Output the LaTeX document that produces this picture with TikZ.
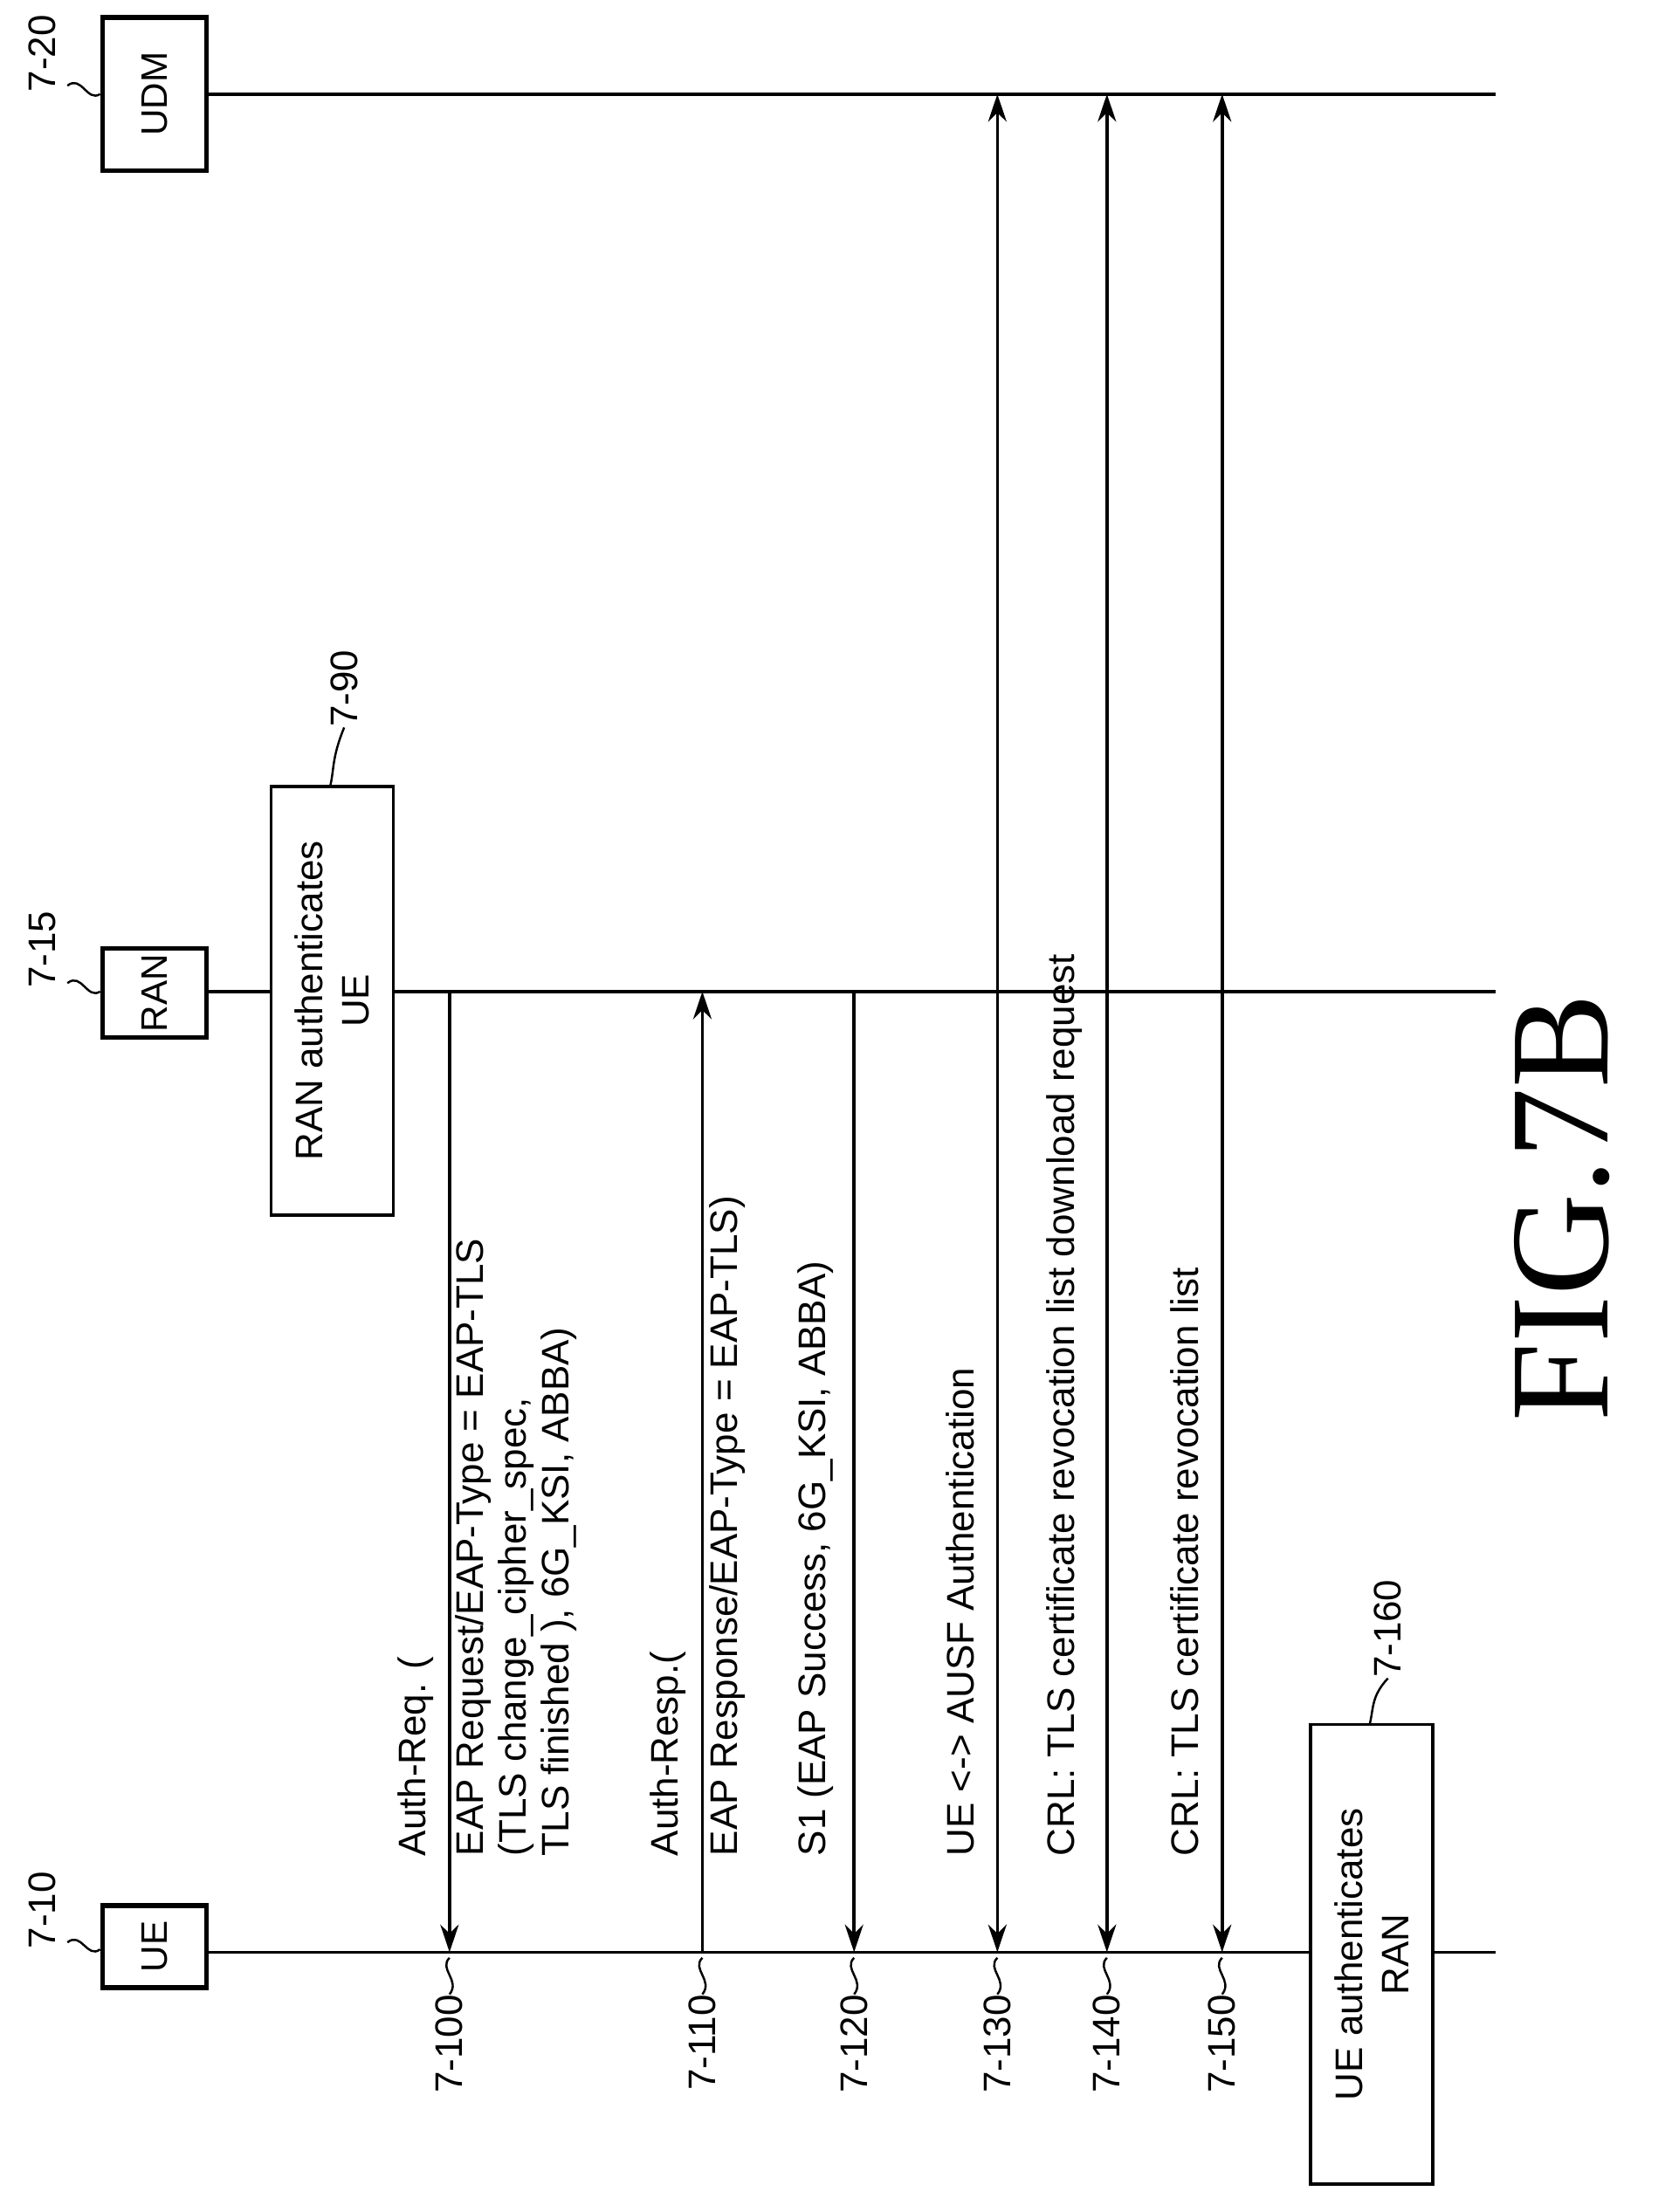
\documentclass[tikz,border=0pt]{standalone}
\usepackage{fontspec}
\setmainfont{Liberation Sans}
\newfontfamily\figfont{Liberation Serif}
\usetikzlibrary{arrows.meta}

\tikzset{
  entity/.style={draw,line width=1.6pt,minimum height=33.9pt,rotate=90,inner sep=0pt,font=\fontsize{12}{15}\selectfont},
  actbox/.style={draw,fill=white,line width=1pt,minimum height=39.8pt,rotate=90,align=center,inner sep=0pt,font=\fontsize{12.5}{15}\selectfont},
  lifeline/.style={line width=1pt},
  msg/.style={line width=1pt,-{Stealth[length=9pt,width=6pt]}},
  dmsg/.style={line width=1pt,{Stealth[length=9pt,width=6pt]}-{Stealth[length=9pt,width=6pt]}},
  msgtext/.style={rotate=90,anchor=south west,align=left,inner sep=0pt,font=\fontsize{12.5}{14}\selectfont},
  reftext/.style={rotate=90,inner sep=0pt,font=\fontsize{12.5}{15}\selectfont},
  squig/.style={line width=0.7pt}
}

\begin{document}
\begin{tikzpicture}[x=0.01609cm,y=-0.01609cm]
            \useasboundingbox (0,0) rectangle (1190,1575);

            % entities
            \node[entity,minimum width=26.6pt] (ue) at (110,1386) {UE};
            \node[entity,minimum width=29pt] (ran) at (110,707) {RAN};
            \node[entity,minimum width=49.9pt] (udm) at (110,67) {UDM};
            \coordinate (ueend) at (1065,1390);
            \coordinate (ranend) at (1065,706);
            \coordinate (udmend) at (1065,67);
            \draw[lifeline] (ue.south |- 0,1390) -- (ueend);
            \draw[lifeline] (ran.south |- 0,706) -- (ranend);
            \draw[lifeline] (udm.south |- 0,67) -- (udmend);

            \node[reftext] (l10) at (30,1360) {7-10};
            \node[reftext] (l15) at (30,676) {7-15};
            \node[reftext] (l20) at (30,38) {7-20};
            \draw[squig] (48,1383) .. controls (58,1375) and (62,1395) .. (ue.north |- 0,1388);
            \draw[squig] (48,700) .. controls (58,692) and (62,712) .. (ran.north |- 0,706);
            \draw[squig] (48,61) .. controls (58,53) and (62,73) .. (udm.north |- 0,67);

            % RAN side check
            \node[actbox,minimum width=139.7pt] (ranauth) at (236.5,712.5) {RAN authenticates\\UE};
            \node[reftext,anchor=west] (l90) at (245,518) {7-90};
            \draw[squig] (235,560) .. controls (238,548) and (236,540) .. (l90.west);

            % messages
            \draw[msg] (320,706) -- (320,1390);
            \draw[msg] (500,1390) -- (500,706);
            \draw[msg] (608,706) -- (608,1390);
            \draw[dmsg] (710,67) -- (710,1390);
            \draw[dmsg] (788,67) -- (788,1390);
            \draw[dmsg] (870,67) -- (870,1390);

            \node[msgtext] (t100a) at (309,1322) {Auth-Req. (};
            \node[msgtext] (t100b) at (411,1322) {EAP Request/EAP-Type = EAP-TLS\\(TLS change\_cipher\_spec,\\TLS finished ), 6G\_KSI, ABBA)};
            \node[msgtext] (t110a) at (489,1322) {Auth-Resp.(};
            \node[msgtext] (t110b) at (531,1322) {EAP Response/EAP-Type = EAP-TLS)};
            \node[msgtext] (t120) at (594,1322) {S1 (EAP Success, 6G\_KSI, ABBA)};
            \node[msgtext] (t130) at (694,1322) {UE <-> AUSF Authentication};
            \node[msgtext] (t140) at (771,1322) {CRL: TLS certificate revocation list download request};
            \node[msgtext] (t150) at (854,1322) {CRL: TLS certificate revocation list};

            % step numbers
            \foreach \x/\n in {320/100,500/110,608/120,710/130,788/140,870/150}{
              \node[reftext,anchor=east] (s\n) at (\x,1420) {7-\n};
              \draw[squig] (\x,1394) .. controls (\x-8,1402) and (\x+8,1410) .. (s\n.east);
            }

            % UE side check
            \node[actbox,minimum width=149.8pt] (ueauth) at (976.5,1391.5) {UE authenticates\\RAN};
            \node[reftext,anchor=west] (l160) at (988,1195) {7-160};
            \draw[squig] (975,1228) .. controls (978,1216) and (976,1208) .. (l160.west);

            \node[rotate=90,inner sep=0pt,font=\figfont\fontsize{46}{50}\selectfont] (fig) at (1112,860) {FIG.7B};
        \end{tikzpicture}
\end{document}
